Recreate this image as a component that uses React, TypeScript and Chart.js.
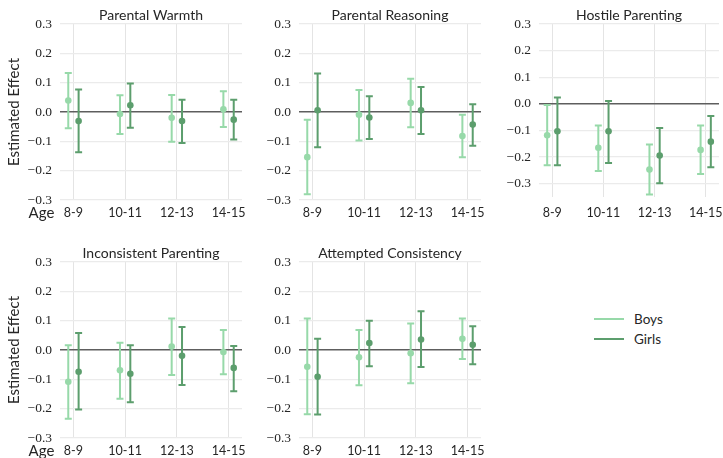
import React, { useEffect, useRef } from 'react';
import { Chart, registerables } from 'chart.js';

Chart.register(...registerables);

// ---------- data ----------
const ageGroups = ['8-9', '10-11', '12-13', '14-15'];
const yTicksTop = 0.3;

// Parental Warmth
const warmthBoys = [0.039, -0.007, -0.020, 0.009];
const warmthBoysLow = [-0.055, -0.075, -0.101, -0.051];
const warmthBoysHigh = [0.133, 0.057, 0.058, 0.071];
const warmthGirls = [-0.031, 0.023, -0.031, -0.026];
const warmthGirlsLow = [-0.137, -0.054, -0.106, -0.094];
const warmthGirlsHigh = [0.077, 0.097, 0.042, 0.042];

// Parental Reasoning
const reasoningBoys = [-0.154, -0.009, 0.031, -0.082];
const reasoningBoysLow = [-0.280, -0.097, -0.052, -0.154];
const reasoningBoysHigh = [-0.026, 0.075, 0.113, -0.009];
const reasoningGirls = [0.006, -0.019, 0.006, -0.043];
const reasoningGirlsLow = [-0.120, -0.092, -0.075, -0.115];
const reasoningGirlsHigh = [0.131, 0.054, 0.085, 0.026];

// Hostile Parenting
const hostileBoys = [-0.118, -0.165, -0.247, -0.173];
const hostileBoysLow = [-0.231, -0.252, -0.341, -0.264];
const hostileBoysHigh = [-0.004, -0.081, -0.153, -0.081];
const hostileGirls = [-0.103, -0.103, -0.194, -0.142];
const hostileGirlsLow = [-0.231, -0.222, -0.298, -0.238];
const hostileGirlsHigh = [0.024, 0.011, -0.091, -0.046];

// Inconsistent Parenting
const inconsistentBoys = [-0.108, -0.069, 0.012, -0.007];
const inconsistentBoysLow = [-0.234, -0.166, -0.085, -0.083];
const inconsistentBoysHigh = [0.016, 0.025, 0.107, 0.068];
const inconsistentGirls = [-0.074, -0.081, -0.020, -0.061];
const inconsistentGirlsLow = [-0.203, -0.178, -0.119, -0.141];
const inconsistentGirlsHigh = [0.058, 0.016, 0.078, 0.014];

// Attempted Consistency
const consistencyBoys = [-0.057, -0.025, -0.011, 0.038];
const consistencyBoysLow = [-0.219, -0.120, -0.113, -0.031];
const consistencyBoysHigh = [0.107, 0.068, 0.090, 0.107];
const consistencyGirls = [-0.091, 0.024, 0.036, 0.018];
const consistencyGirlsLow = [-0.220, -0.055, -0.058, -0.049];
const consistencyGirlsHigh = [0.038, 0.100, 0.132, 0.081];

// ---------- styles ----------
const BOYS = '#97d9a9';
const GIRLS = '#5c9e6d';
const SANS = 'Lato, "DejaVu Sans", sans-serif';
const SERIF = '"Liberation Serif", serif';
const TEXT = '#262626';

const isZero = (v: number) => Math.abs(v) < 1e-9;
const fmtY = (v: number) => (v < -1e-9 ? '\u2212' : '') + Math.abs(v).toFixed(1);

const errorBarPlugin = {
  id: 'errorBars',
  beforeDatasetsDraw(chart: any) {
    const { ctx, scales } = chart;
    const x = scales.x;
    const y = scales.y;
    chart.data.datasets.forEach((ds: any) => {
      ds.data.forEach((p: any, i: number) => {
        const px = x.getPixelForValue(p.x);
        const yl = y.getPixelForValue(ds.low[i]);
        const yh = y.getPixelForValue(ds.high[i]);
        ctx.save();
        ctx.strokeStyle = ds.borderColor;
        ctx.lineWidth = 2;
        ctx.beginPath();
        ctx.moveTo(px, yl);
        ctx.lineTo(px, yh);
        ctx.moveTo(px - 3.5, yl);
        ctx.lineTo(px + 3.5, yl);
        ctx.moveTo(px - 3.5, yh);
        ctx.lineTo(px + 3.5, yh);
        ctx.stroke();
        ctx.restore();
      });
    });
  },
};

type PanelProps = {
  title: string;
  boys: number[]; boysLow: number[]; boysHigh: number[];
  girls: number[]; girlsLow: number[]; girlsHigh: number[];
  yMin: number;
  showYTitle: boolean;
  showAge: boolean;
  left: number; top: number; width: number; height: number;
  xAxisH: number; xTickPad: number; padRight: number;
};

function Panel(props: PanelProps) {
  const ref = useRef<HTMLCanvasElement>(null);
  useEffect(() => {
    const p = props;
    const textPlugin = {
      id: 'panelText',
      afterDraw(chart: any) {
        const { ctx, chartArea } = chart;
        ctx.save();
        ctx.fillStyle = TEXT;
        ctx.font = `14px ${SANS}`;
        ctx.textAlign = 'center';
        ctx.textBaseline = 'middle';
        ctx.fillText(p.title, (chartArea.left + chartArea.right) / 2, 15);
        if (p.showAge) {
          ctx.font = `15px ${SANS}`;
          ctx.fillText('Age', 41.5, chartArea.bottom + p.xTickPad + 8);
        }
        ctx.restore();
      },
    };
    const chart = new Chart(ref.current as HTMLCanvasElement, {
      type: 'scatter',
      data: {
        datasets: [
          {
            label: 'Boys',
            data: p.boys.map((v, i) => ({ x: i - 0.1, y: v })),
            low: p.boysLow,
            high: p.boysHigh,
            backgroundColor: BOYS,
            borderColor: BOYS,
            pointRadius: 3.3,
            pointBorderWidth: 0,
          } as any,
          {
            label: 'Girls',
            data: p.girls.map((v, i) => ({ x: i + 0.1, y: v })),
            low: p.girlsLow,
            high: p.girlsHigh,
            backgroundColor: GIRLS,
            borderColor: GIRLS,
            pointRadius: 3.3,
            pointBorderWidth: 0,
          } as any,
        ],
      },
      options: {
        responsive: false,
        animation: false,
        events: [],
        layout: { padding: { top: 24, right: p.padRight, left: 0, bottom: 0 } },
        plugins: { legend: { display: false }, tooltip: { enabled: false }, title: { display: false } },
        scales: {
          x: {
            type: 'linear',
            min: -0.26,
            max: 3.26,
            ticks: {
              stepSize: 1,
              includeBounds: false,
              padding: p.xTickPad,
              color: TEXT,
              maxRotation: 0,
              autoSkip: false,
              font: { family: SANS, size: 12.5 },
              callback: (v: any) => ageGroups[Math.round(Number(v))] ?? '',
            },
            grid: { drawTicks: false, color: '#e4e4e4', lineWidth: 1 },
            border: { display: false },
            afterFit: (s: any) => {
              s.height = p.xAxisH;
              s.paddingLeft = 0;
              s.paddingRight = 0;
            },
          },
          y: {
            min: p.yMin,
            max: yTicksTop,
            ticks: {
              stepSize: 0.1,
              includeBounds: false,
              padding: 8,
              color: TEXT,
              font: { family: SERIF, size: 13.5 },
              callback: (v: any) => fmtY(Number(v)),
            },
            grid: {
              drawTicks: false,
              color: (c: any) => (c.tick && isZero(c.tick.value) ? '#5e5e5e' : '#ebebeb'),
              lineWidth: (c: any) => (c.tick && isZero(c.tick.value) ? 1.6 : 1.3),
            },
            border: { display: false },
            title: {
              display: p.showYTitle,
              text: 'Estimated Effect',
              color: TEXT,
              font: { family: SANS, size: 15 },
              padding: { top: 5, bottom: 0 },
            },
            afterFit: (s: any) => {
              s.width = 60;
              s.paddingTop = 0;
              s.paddingBottom = 0;
            },
          },
        },
      } as any,
      plugins: [errorBarPlugin, textPlugin],
    });
    return () => chart.destroy();
  }, []);
  return (
    <canvas
      ref={ref}
      width={props.width}
      height={props.height}
      style={{ position: 'absolute', left: props.left, top: props.top, width: props.width, height: props.height }}
    />
  );
}

export default function App() {
  return (
    <div style={{ position: 'absolute', left: 0, top: 0, width: 723, height: 458, overflow: 'hidden', background: '#fff' }}>
      <Panel title="Parental Warmth" boys={warmthBoys} boysLow={warmthBoysLow} boysHigh={warmthBoysHigh}
        girls={warmthGirls} girlsLow={warmthGirlsLow} girlsHigh={warmthGirlsHigh}
        yMin={-0.3} showYTitle showAge left={0} top={0} width={246} height={224} xAxisH={24} xTickPad={5} padRight={3} />
      <Panel title="Parental Reasoning" boys={reasoningBoys} boysLow={reasoningBoysLow} boysHigh={reasoningBoysHigh}
        girls={reasoningGirls} girlsLow={reasoningGirlsLow} girlsHigh={reasoningGirlsHigh}
        yMin={-0.3} showYTitle={false} showAge={false} left={239} top={0} width={246} height={224} xAxisH={24} xTickPad={5} padRight={3} />
      <Panel title="Hostile Parenting" boys={hostileBoys} boysLow={hostileBoysLow} boysHigh={hostileBoysHigh}
        girls={hostileGirls} girlsLow={hostileGirlsLow} girlsHigh={hostileGirlsHigh}
        yMin={-0.35} showYTitle={false} showAge={false} left={479} top={0} width={244} height={224} xAxisH={27} xTickPad={8} padRight={1} />
      <Panel title="Inconsistent Parenting" boys={inconsistentBoys} boysLow={inconsistentBoysLow} boysHigh={inconsistentBoysHigh}
        girls={inconsistentGirls} girlsLow={inconsistentGirlsLow} girlsHigh={inconsistentGirlsHigh}
        yMin={-0.3} showYTitle showAge left={0} top={238} width={246} height={220} xAxisH={20} xTickPad={5} padRight={3} />
      <Panel title="Attempted Consistency" boys={consistencyBoys} boysLow={consistencyBoysLow} boysHigh={consistencyBoysHigh}
        girls={consistencyGirls} girlsLow={consistencyGirlsLow} girlsHigh={consistencyGirlsHigh}
        yMin={-0.3} showYTitle={false} showAge={false} left={239} top={238} width={246} height={220} xAxisH={20} xTickPad={5} padRight={3} />
      <div style={{ position: 'absolute', left: 594, top: 318, width: 30, height: 2, background: BOYS }} />
      <div style={{ position: 'absolute', left: 634, top: 310, fontFamily: SANS, fontSize: 13.5, lineHeight: '18px', color: TEXT }}>Boys</div>
      <div style={{ position: 'absolute', left: 594, top: 338, width: 30, height: 2, background: GIRLS }} />
      <div style={{ position: 'absolute', left: 634, top: 330, fontFamily: SANS, fontSize: 13.5, lineHeight: '18px', color: TEXT }}>Girls</div>
    </div>
  );
}
